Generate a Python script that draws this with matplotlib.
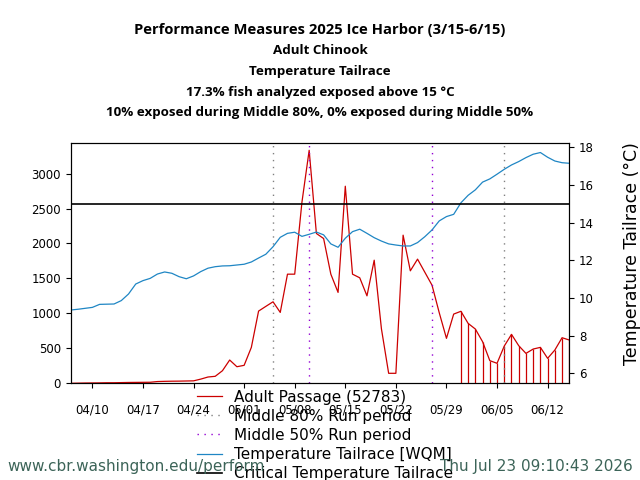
import numpy as np
import matplotlib
matplotlib.use('Agg')
import matplotlib.pyplot as plt
import matplotlib.dates as mdates

# daily values 2025-04-07 .. 2025-06-15
start = np.datetime64('2025-04-07')
passage = [0, 2, 4, 5, 6, 8, 8, 10, 12, 13, 14, 15, 25, 28, 30, 31, 33, 35, 60, 90, 100, 180,
           333, 237, 257, 514, 1033, 1100, 1166, 1014, 1561, 1561, 2590, 3333,
           2143, 2071, 1561, 1300, 2819, 1561, 1509, 1251, 1761, 780, 143, 143,
           2119, 1609, 1776, 1590, 1404, 1010, 643, 990, 1030, 857, 776, 595,
           324, 286, 533, 700, 538, 428, 490, 514, 357, 476, 652, 619]
temp = [9.36, 9.40, 9.45, 9.50, 9.66, 9.67, 9.68, 9.86, 10.21, 10.74, 10.92, 11.04, 11.27,
        11.38, 11.31, 11.13, 11.02, 11.17, 11.40, 11.58, 11.66, 11.70, 11.71, 11.75, 11.79,
        11.91, 12.12, 12.32, 12.72, 13.22, 13.43, 13.49, 13.27, 13.38, 13.50, 13.35, 12.87,
        12.69, 13.17, 13.52, 13.65, 13.43, 13.20, 13.02, 12.87, 12.81, 12.76, 12.76, 12.94,
        13.25, 13.61, 14.09, 14.32, 14.44, 15.05, 15.45, 15.74, 16.15, 16.32, 16.57, 16.83,
        17.06, 17.24, 17.45, 17.63, 17.72, 17.47, 17.27, 17.18, 17.15]
critical = 15
mid80 = ['2025-05-05', '2025-06-06']
mid50 = ['2025-05-10', '2025-05-27']
total = 52783

dates = start + np.arange(len(passage))
passage = np.array(passage)
temp = np.array(temp)

fig = plt.figure(figsize=(6.4, 4.8), dpi=100)
ax = fig.add_axes([70.7 / 640, 1 - 383.3 / 480, 498.6 / 640, 240 / 480])
ax2 = ax.twinx()

red = '#cc0000'
blue = '#1f86c4'
l1, = ax.plot(dates, passage, color=red, lw=0.9, label='Adult Passage (%d)' % total)
hot = temp > critical
ax.vlines(dates[hot], 0, passage[hot], color=red, lw=0.9)
for d in mid80:
    l2 = ax.axvline(np.datetime64(d), color='gray', ls=(0, (1, 4)), lw=1.0,
                    label='Middle 80% Run period')
for d in mid50:
    l3 = ax.axvline(np.datetime64(d), color='darkviolet', ls=(0, (1, 4)), lw=1.0,
                    label='Middle 50% Run period')
l4, = ax2.plot(dates, temp, color=blue, lw=0.9, label='Temperature Tailrace [WQM]')
l5 = ax2.axhline(critical, color='black', lw=1.2, label='Critical Temperature Tailrace')

ax.set_xlim(np.datetime64('2025-04-07'), np.datetime64('2025-06-15'))
ax.set_ylim(0, passage.max() * 1.03)
ax.set_yticks(np.arange(0, 3001, 500))
ax2.set_ylim(5.47, 18.21)
ax2.set_yticks(np.arange(6, 19, 2))
ax.xaxis.set_major_locator(mdates.WeekdayLocator(byweekday=mdates.TH))
ax.xaxis.set_major_formatter(mdates.DateFormatter('%m/%d'))
ax.tick_params(axis='x', labelsize=8.5, pad=11)
ax.tick_params(axis='y', labelsize=8.5)
ax2.tick_params(axis='y', labelsize=8.5)
ax2.set_ylabel('Temperature Tailrace (°C)', fontsize=12.5)
ax2.yaxis.set_label_coords(1.107, 0.539)

ax.legend(handles=[l1, l2, l3, l4, l5], loc='upper center', bbox_to_anchor=(0.51, 0.025),
          frameon=False, fontsize=11, handlelength=1.6, labelspacing=0.27,
          borderpad=0.3)

title = ['Performance Measures 2025 Ice Harbor (3/15-6/15)',
         'Adult Chinook',
         'Temperature Tailrace',
         '17.3% fish analyzed exposed above 15 °C',
         '10% exposed during Middle 80%, 0% exposed during Middle 50%']
title_size = [10.6, 9.65, 9.65, 9.65, 9.65]
for i, line in enumerate(title):
    fig.text(0.5, 1 - (30 + 20.7 * i) / 480, line, ha='center', va='center',
             fontsize=title_size[i], fontweight='bold', family='Open Sans')

fig.text(7 / 640, 1 - 466 / 480, 'www.cbr.washington.edu/perform', fontsize=11,
         color='#3c6458', va='center', ha='left')
fig.text(633 / 640, 1 - 466 / 480, 'Thu Jul 23 09:10:43 2026', fontsize=11,
         color='#3c6458', va='center', ha='right')

fig.savefig('out.png', dpi=100)
